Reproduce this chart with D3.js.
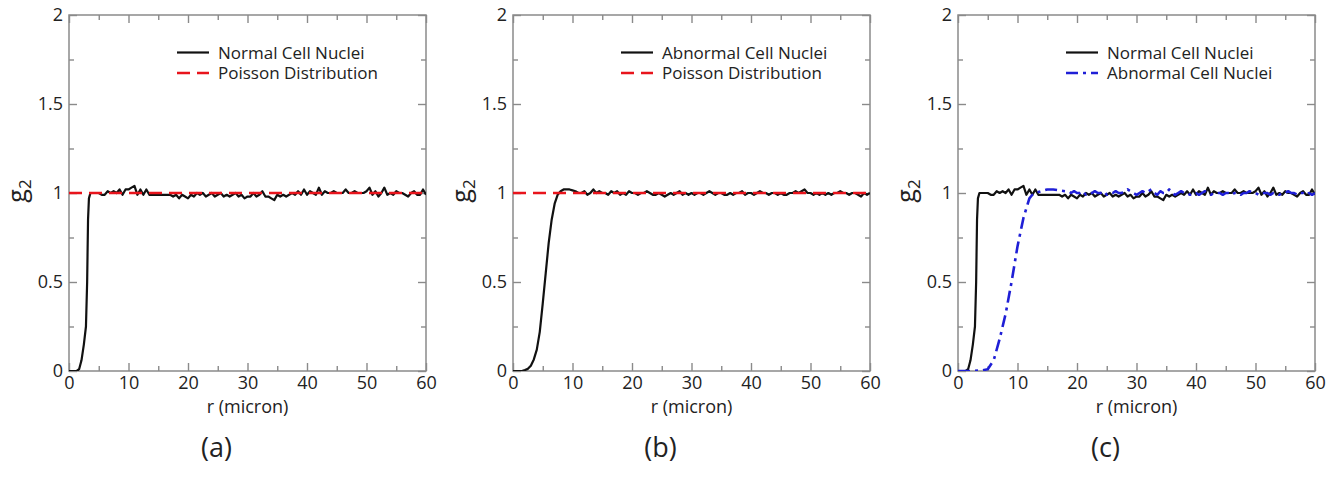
<!DOCTYPE html>
<html>
<head>
<meta charset="utf-8">
<script src="https://cdn.jsdelivr.net/npm/d3@7"></script>
<style>
    body { margin: 0; background: #fff; }
    svg { display: block; }
</style>
</head>
<body>
<div id="chart"></div>
<script>
// DATA //
// x axis is r (micron), y axis is g2
const xTicks = [0, 10, 20, 30, 40, 50, 60]
const xMinorTicks = [5, 15, 25, 35, 45, 55]
const yTicks = [0, 0.5, 1, 1.5, 2]
const yTickLabels = ["0", "0.5", "1", "1.5", "2"]
const yMinorTicks = [0.25, 0.75, 1.25, 1.75]

const panelLabels = ["(a)", "(b)", "(c)"]
const legendNames = [
    ["Normal Cell Nuclei", "Poisson Distribution"],
    ["Abnormal Cell Nuclei", "Poisson Distribution"],
    ["Normal Cell Nuclei", "Abnormal Cell Nuclei"],
]

// sample spacing of the noisy tails
const rStep = 0.5

// normal cell nuclei: onset as [r, g] pairs, then tail from r = 4.5
const normalRise = [[0, 0], [1.3, 0], [1.7, 0.01], [2.1, 0.06], [2.5, 0.15], [2.85, 0.25],
    [3.05, 0.5], [3.2, 0.85], [3.35, 0.97], [3.6, 1.0], [4, 1.0]]
const normalTailStart = 4.5
const normalTail = [
    1.00, 1.00, 0.99, 0.99, 1.01, 1.00, 1.01, 1.00, 1.02, 0.99,
    1.02, 1.02, 1.03, 1.04, 0.99, 1.02, 0.99, 1.02, 0.99, 0.99,
    0.99, 0.99, 0.99, 0.99, 0.99, 0.99, 0.98, 0.99, 0.97, 0.99,
    0.98, 0.97, 0.99, 0.98, 1.00, 0.99, 1.00, 0.98, 0.99, 1.00,
    0.98, 0.99, 1.00, 0.98, 0.99, 0.98, 0.99, 1.00, 0.98, 0.99,
    0.97, 0.98, 0.98, 1.00, 0.98, 0.99, 1.01, 0.98, 0.98, 0.97,
    0.96, 0.99, 0.98, 0.99, 0.98, 0.99, 1.00, 0.99, 1.01, 0.99,
    1.02, 0.99, 1.01, 1.00, 0.99, 1.03, 0.99, 1.01, 1.00, 1.00,
    1.01, 1.00, 1.00, 1.00, 1.02, 1.00, 1.00, 1.01, 1.00, 1.00,
    1.00, 1.01, 1.03, 0.99, 1.01, 0.98, 1.00, 1.03, 0.99, 1.00,
    0.99, 1.01, 1.00, 1.00, 0.99, 0.98, 1.00, 1.01, 0.99, 0.99,
    1.02, 0.99,
]

// abnormal cell nuclei, panel (b)
const abnormalRise = [[0, 0], [1.5, 0], [2, 0.005], [2.5, 0.012], [3, 0.03], [3.5, 0.065],
    [4, 0.12], [4.5, 0.22], [5, 0.38], [5.5, 0.55], [6, 0.72], [6.5, 0.85], [7, 0.94],
    [7.5, 0.99], [8, 1.01], [8.5, 1.02], [9, 1.02], [9.5, 1.02], [10, 1.015]]
const abnormalTailStart = 10.5
const abnormalTail = [
    1.01, 1.00, 1.00, 1.01, 0.99, 1.00, 1.02, 1.00, 1.01, 1.00,
    1.00, 0.99, 1.01, 1.00, 1.01, 0.99, 1.00, 0.99, 1.01, 1.00,
    1.00, 0.99, 1.00, 1.00, 1.01, 1.00, 0.99, 0.99, 1.00, 0.99,
    0.98, 0.99, 1.00, 0.99, 1.00, 1.01, 0.99, 1.00, 0.99, 1.00,
    0.99, 1.00, 1.00, 0.99, 1.00, 1.01, 1.00, 0.99, 1.00, 1.00,
    0.99, 0.99, 1.00, 0.99, 1.00, 1.00, 1.01, 0.99, 1.00, 1.00,
    0.99, 1.00, 1.01, 1.00, 1.00, 0.99, 1.00, 1.00, 0.99, 1.00,
    0.99, 0.99, 1.00, 1.00, 1.01, 1.00, 1.01, 1.02, 1.00, 1.00,
    0.99, 1.00, 0.99, 1.00, 0.99, 1.00, 0.99, 1.00, 1.00, 1.01,
    1.00, 1.00, 0.99, 1.00, 1.00, 0.99, 0.98, 1.00, 0.99, 1.00,
]

// abnormal cell nuclei as drawn in panel (c)
const abnormalCRise = [[0, 0], [2, 0], [4, 0.003], [5, 0.01], [6, 0.06], [7, 0.18], [8, 0.32],
    [9, 0.5], [10, 0.7], [11, 0.86], [12, 0.97], [12.5, 0.99], [13, 1.0], [14, 1.01],
    [15, 1.02], [16, 1.02], [17, 1.015], [18, 1.01]]
const abnormalCTailStart = 18.5
const abnormalCTail = [
    1.01, 1.00, 1.01, 1.00, 1.00, 1.01, 0.99, 1.00, 1.00, 1.01,
    1.00, 1.00, 1.01, 0.99, 1.00, 1.00, 1.01, 1.00, 1.00, 1.01,
    1.02, 1.01, 1.00, 0.99, 1.00, 1.01, 1.00, 1.01, 1.02, 1.00,
    0.99, 1.01, 1.00, 1.00, 1.02, 1.00, 0.99, 1.00, 1.01, 1.00,
    1.00, 0.99, 1.00, 1.00, 0.99, 1.00, 1.01, 1.00, 0.99, 1.00,
    1.00, 1.00, 0.99, 1.00, 1.00, 0.99, 1.00, 1.00, 0.99, 1.00,
    1.00, 1.01, 1.00, 1.00, 0.99, 1.00, 1.00, 1.00, 0.99, 1.00,
    1.00, 0.99, 1.00, 1.00, 1.01, 1.00, 1.00, 0.99, 1.00, 1.00,
    0.99, 1.00, 0.99, 1.00,
]

// poisson reference
const poissonR = [0, 60]
const poissonG = [1, 1]


// GLOBAL VARIABLES //
const width = 1336
const height = 478

const plot = {
    top: 15,
    width: 357,
    height: 356,
    lefts: [69, 513, 958],
}

const styles = {
    normal: { color: "#111", width: 2.2, dash: null },
    poisson: { color: "#e8141c", width: 2.6, dash: "13,7" },
    abnormalC: { color: "#1f1fd6", width: 2.6, dash: "12,5,3,5" },
}

const frameColor = "#8a8a8a"
const textColor = "#222"
const fontFamily = "'Open Sans', 'Noto Sans', sans-serif"

const xScale = d3.scaleLinear()
    .domain([0, 60])
    .range([0, plot.width])

const yScale = d3.scaleLinear()
    .domain([0, 2])
    .range([plot.height, 0])

const lineGenerator = d3.line()
    .x(d => xScale(d[0]))
    .y(d => yScale(d[1]))


function buildSeries(rise, tail, tailStart) {
    const pts = rise.map(d => [d[0], d[1]])
    tail.forEach((g, i) => pts.push([tailStart + i * rStep, g]))
    return pts.filter(d => d[0] <= 60)
}

const normalSeries = buildSeries(normalRise, normalTail, normalTailStart)
const abnormalSeries = buildSeries(abnormalRise, abnormalTail, abnormalTailStart)
const abnormalCSeries = buildSeries(abnormalCRise, abnormalCTail, abnormalCTailStart)
const poissonSeries = poissonR.map((r, i) => [r, poissonG[i]])

// which curves go in which panel (drawn in this order, dashed on top)
const panelSeries = [
    [{ data: normalSeries, style: styles.normal }, { data: poissonSeries, style: styles.poisson }],
    [{ data: abnormalSeries, style: styles.normal }, { data: poissonSeries, style: styles.poisson }],
    [{ data: normalSeries, style: styles.normal }, { data: abnormalCSeries, style: styles.abnormalC }],
]
const panelLegendStyles = [
    [styles.normal, styles.poisson],
    [styles.normal, styles.poisson],
    [styles.normal, styles.abnormalC],
]


// DRAW //
const svg = d3.select("#chart")
    .append("svg")
    .attr("width", width)
    .attr("height", height)
    .style("font-family", fontFamily)

function styleTicks(axisG, showText) {
    axisG.select(".domain").remove()
    axisG.selectAll("line")
        .attr("stroke", frameColor)
        .attr("stroke-width", 1.4)
    axisG.selectAll("text")
        .attr("fill", textColor)
        .style("font-size", "18px")
        .style("font-family", fontFamily)
    if (!showText) axisG.selectAll("text").remove()
}

function drawPanel(i) {
    const bounds = svg.append("g")
        .attr("transform", `translate(${plot.lefts[i]}, ${plot.top})`)

    // clip for curves
    bounds.append("clipPath")
        .attr("id", `clip-${i}`)
        .append("rect")
        .attr("width", plot.width)
        .attr("height", plot.height)

    // ticks on all four sides, pointing in
    const major = 8
    const minor = 5

    bounds.append("g")
        .attr("transform", `translate(0, ${plot.height})`)
        .call(d3.axisBottom(xScale).tickValues(xTicks).tickFormat(d3.format("d"))
            .tickSizeInner(-major).tickSizeOuter(0).tickPadding(5))
        .call(g => styleTicks(g, true))
    bounds.append("g")
        .attr("transform", `translate(0, ${plot.height})`)
        .call(d3.axisBottom(xScale).tickValues(xMinorTicks).tickSizeInner(-minor).tickSizeOuter(0))
        .call(g => styleTicks(g, false))
    bounds.append("g")
        .call(d3.axisTop(xScale).tickValues(xTicks).tickSizeInner(-major).tickSizeOuter(0))
        .call(g => styleTicks(g, false))
    bounds.append("g")
        .call(d3.axisTop(xScale).tickValues(xMinorTicks).tickSizeInner(-minor).tickSizeOuter(0))
        .call(g => styleTicks(g, false))

    bounds.append("g")
        .call(d3.axisLeft(yScale).tickValues(yTicks).tickFormat((d, k) => yTickLabels[k])
            .tickSizeInner(-major).tickSizeOuter(0).tickPadding(6))
        .call(g => styleTicks(g, true))
    bounds.append("g")
        .call(d3.axisLeft(yScale).tickValues(yMinorTicks).tickSizeInner(-minor).tickSizeOuter(0))
        .call(g => styleTicks(g, false))
    bounds.append("g")
        .attr("transform", `translate(${plot.width}, 0)`)
        .call(d3.axisRight(yScale).tickValues(yTicks).tickSizeInner(-major).tickSizeOuter(0))
        .call(g => styleTicks(g, false))
    bounds.append("g")
        .attr("transform", `translate(${plot.width}, 0)`)
        .call(d3.axisRight(yScale).tickValues(yMinorTicks).tickSizeInner(-minor).tickSizeOuter(0))
        .call(g => styleTicks(g, false))

    // frame
    bounds.append("rect")
        .attr("width", plot.width)
        .attr("height", plot.height)
        .attr("fill", "none")
        .attr("stroke", frameColor)
        .attr("stroke-width", 1.5)

    // curves
    const curves = bounds.append("g").attr("clip-path", `url(#clip-${i})`)
    panelSeries[i].forEach(s => {
        curves.append("path")
            .attr("d", lineGenerator(s.data))
            .attr("fill", "none")
            .attr("stroke", s.style.color)
            .attr("stroke-width", s.style.width)
            .attr("stroke-dasharray", s.style.dash)
            .attr("stroke-linejoin", "round")
    })

    // legend
    const legend = bounds.append("g")
        .attr("transform", "translate(108, 37.5)")
    legendNames[i].forEach((name, k) => {
        const st = panelLegendStyles[i][k]
        legend.append("line")
            .attr("x1", 0).attr("x2", 32)
            .attr("y1", k * 20.5).attr("y2", k * 20.5)
            .attr("stroke", st.color)
            .attr("stroke-width", st.width)
            .attr("stroke-dasharray", st.dash)
        legend.append("text")
            .attr("x", 41)
            .attr("y", k * 20.5)
            .attr("dy", "0.36em")
            .attr("fill", textColor)
            .style("font-size", "17px")
            .text(name)
    })

    // axis labels
    bounds.append("text")
        .attr("x", plot.width / 2)
        .attr("y", plot.height + 42)
        .attr("text-anchor", "middle")
        .attr("fill", textColor)
        .style("font-size", "18px")
        .text("r (micron)")

    const yLabel = bounds.append("text")
        .attr("transform", `translate(-43, ${plot.height / 2 - 2}) rotate(-90)`)
        .attr("text-anchor", "middle")
        .attr("fill", textColor)
        .style("font-size", "25px")
    yLabel.append("tspan").text("g")
    yLabel.append("tspan")
        .attr("dy", "0.28em")
        .style("font-size", "17px")
        .text("2")

    // panel letter
    bounds.append("text")
        .attr("x", plot.width / 2 - 31)
        .attr("y", plot.height + 86)
        .attr("text-anchor", "middle")
        .attr("fill", textColor)
        .style("font-size", "27px")
        .text(panelLabels[i])
}

panelLabels.forEach((d, i) => drawPanel(i))
</script>
</body>
</html>
